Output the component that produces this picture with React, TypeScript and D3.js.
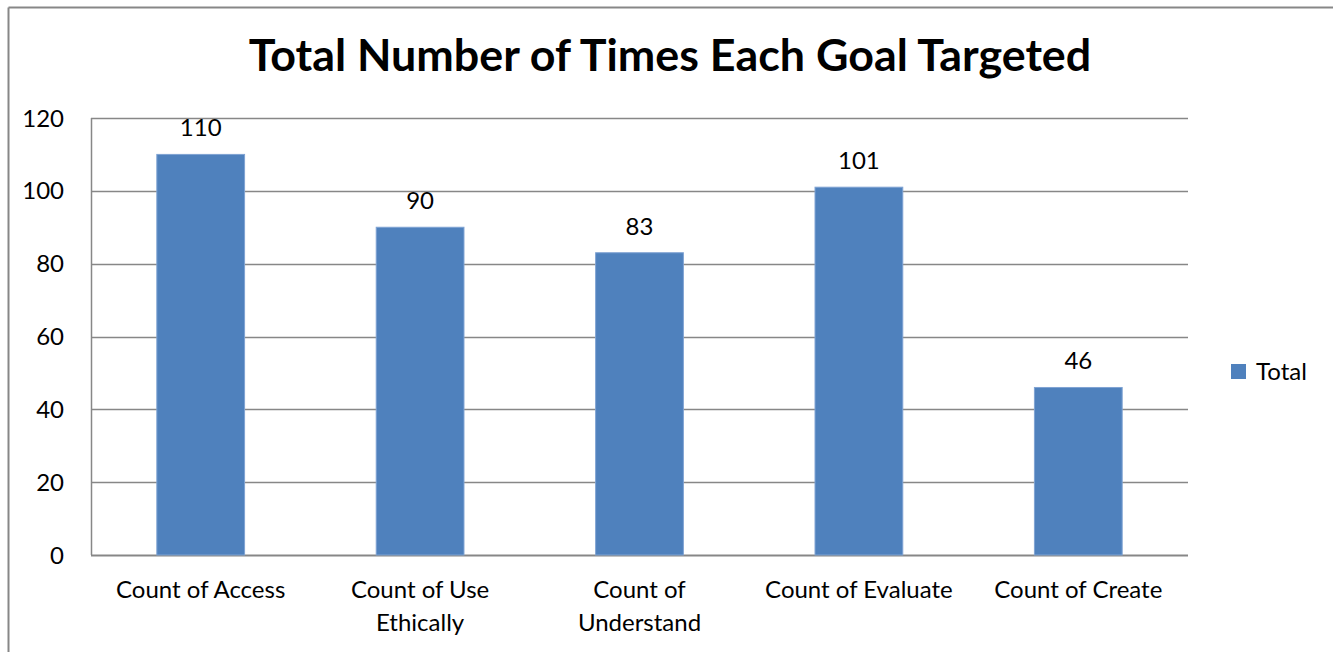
import React from "react";
import * as d3 from "d3";

const categories: string[][] = [
  ["Count of Access"],
  ["Count of Use", "Ethically"],
  ["Count of", "Understand"],
  ["Count of Evaluate"],
  ["Count of Create"],
];
const totals: number[] = [110, 90, 83, 101, 46];
const yTicks: number[] = [0, 20, 40, 60, 80, 100, 120];
const seriesName = "Total";
const title = "Total Number of Times Each Goal Targeted";

const W = 1333;
const H = 652;
const plot = { left: 91, right: 1188, top: 118, bottom: 555 };
const FONT = "Lato, 'Open Sans', sans-serif";
const BAR = "#4F81BD";
const GRID = "#878787";
const LABEL_SIZE = 24;

export default function App() {
  const x = d3
    .scaleBand<number>()
    .domain(d3.range(totals.length))
    .range([plot.left, plot.right])
    .paddingInner(0.6)
    .paddingOuter(0.3);
  const y = d3.scaleLinear().domain([0, 120]).range([plot.bottom, plot.top]);
  const band = (plot.right - plot.left) / totals.length;

  return (
    <svg
      width={W}
      height={H}
      style={{ position: "absolute", left: 0, top: 0, background: "#fff" }}
      fontFamily={FONT}
    >
      {/* chart frame */}
      <line x1={8.5} y1={7.5} x2={W} y2={7.5} stroke={GRID} strokeWidth={2} />
      <line x1={8.5} y1={7.5} x2={8.5} y2={H} stroke={GRID} strokeWidth={2} />

      <text
        x={670}
        y={71}
        textAnchor="middle"
        fontSize={44.8}
        fontWeight={700}
        fill="#000"
      >
        {title}
      </text>

      {/* gridlines */}
      {yTicks.map((t) => (
        <line
          key={t}
          x1={plot.left}
          x2={plot.right}
          y1={Math.round(y(t)) + 0.5}
          y2={Math.round(y(t)) + 0.5}
          stroke={GRID}
          strokeWidth={t === 0 ? 2 : 1.5}
        />
      ))}
      <line
        x1={plot.left + 0.5}
        x2={plot.left + 0.5}
        y1={plot.top}
        y2={plot.bottom}
        stroke={GRID}
        strokeWidth={1.5}
      />

      {/* y tick labels */}
      {yTicks.map((t) => (
        <text
          key={t}
          x={64}
          y={y(t)}
          dy="0.36em"
          textAnchor="end"
          fontSize={LABEL_SIZE}
          fill="#000"
        >
          {t}
        </text>
      ))}

      {/* bars */}
      {totals.map((v, i) => (
        <g key={i}>
          <rect
            x={x(i)!}
            y={y(v)}
            width={x.bandwidth()}
            height={plot.bottom - y(v)}
            fill={BAR}
            stroke="#7FA3D3"
            strokeWidth={1}
          />
          <text
            x={x(i)! + x.bandwidth() / 2}
            y={y(v) - 18}
            textAnchor="middle"
            fontSize={LABEL_SIZE}
            fill="#000"
          >
            {v}
          </text>
        </g>
      ))}

      {/* category labels */}
      {categories.map((lines, i) => (
        <text
          key={i}
          x={plot.left + band * (i + 0.5)}
          y={598}
          textAnchor="middle"
          fontSize={LABEL_SIZE}
          fill="#000"
        >
          {lines.map((l, j) => (
            <tspan key={j} x={plot.left + band * (i + 0.5)} dy={j === 0 ? 0 : 33}>
              {l}
            </tspan>
          ))}
        </text>
      ))}

      {/* legend */}
      <rect x={1231} y={364} width={15} height={15} fill={BAR} />
      <text x={1256} y={380} fontSize={LABEL_SIZE} fill="#000">
        {seriesName}
      </text>
    </svg>
  );
}
